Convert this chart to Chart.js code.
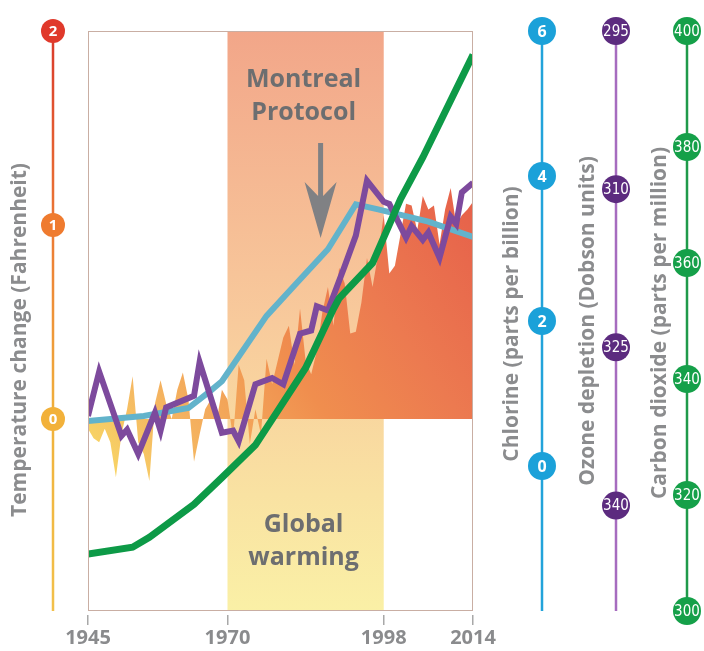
<!DOCTYPE html>
<html>
<head>
<meta charset="utf-8">
<script src="https://cdn.jsdelivr.net/npm/chart.js@4/dist/chart.umd.min.js"></script>
<style>
  html, body { margin: 0; padding: 0; background: #fff; }
  #grafico { display: block; }
</style>
</head>
<body>
<canvas id="grafico" width="704" height="651"></canvas>
<script>
// Datos
const anios = [
  1945, 1946, 1947, 1948, 1949, 1950, 1951, 1952, 1953, 1954,
  1955, 1956, 1957, 1958, 1959, 1960, 1961, 1962, 1963, 1964,
  1965, 1966, 1967, 1968, 1969, 1970, 1971, 1972, 1973, 1974,
  1975, 1976, 1977, 1978, 1979, 1980, 1981, 1982, 1983, 1984,
  1985, 1986, 1987, 1988, 1989, 1990, 1991, 1992, 1993, 1994,
  1995, 1996, 1997, 1998, 1999, 2000, 2001, 2002, 2003, 2004,
  2005, 2006, 2007, 2008, 2009, 2010, 2011, 2012, 2013, 2014
];
// cambio de temperatura (°F)
const temperatura = [
  -0.05, -0.10, -0.12, -0.05, -0.12, -0.30, -0.08, 0.05, 0.22, -0.12,
  -0.18, -0.32, 0.08, 0.20, 0.08, 0.00, 0.15, 0.24, 0.10, -0.22,
  -0.08, 0.05, 0.10, -0.02, 0.15, 0.10, -0.10, 0.28, 0.20, -0.13,
  0.05, -0.08, 0.31, 0.18, 0.30, 0.42, 0.48, 0.28, 0.57, 0.30,
  0.23, 0.35, 0.55, 0.68, 0.48, 0.78, 0.70, 0.44, 0.45, 0.60,
  0.83, 0.68, 0.85, 1.05, 0.75, 0.79, 0.95, 1.11, 1.10, 0.97,
  1.15, 1.08, 1.10, 0.90, 1.08, 1.19, 1.00, 1.05, 1.08, 1.12
];

// cloro (partes por billón)
const cloroAnios = [1945, 1955, 1963, 1967, 1969, 1977, 1982, 1988, 1993, 1997, 2006, 2014];
const cloro = [0.62, 0.69, 0.80, 1.04, 1.17, 2.07, 2.49, 2.99, 3.61, 3.54, 3.37, 3.16];

// ozono (unidades Dobson)
const ozonoAnios = [1945, 1947, 1951, 1952, 1954, 1957, 1958, 1959, 1964, 1965,
  1969, 1971, 1972, 1975, 1978, 1980, 1983, 1985, 1986, 1988,
  1991, 1993, 1995, 1998, 1999, 2002, 2003, 2005, 2006, 2008,
  2010, 2011, 2012, 2014];
const ozono = [331.5, 327.3, 333.4, 332.8, 335.1, 331.2, 332.9, 330.7, 329.6, 326.4,
  333.1, 332.9, 333.9, 328.5, 327.9, 328.5, 323.7, 323.4, 321.1, 321.5,
  317.3, 314.4, 309.2, 311.2, 311.4, 314.6, 313.5, 314.8, 314.1, 316.5,
  312.6, 313.3, 310.3, 309.4];

// dióxido de carbono (ppm)
const co2Anios = [1945, 1953, 1956, 1964, 1969, 1975, 1979, 1984, 1989, 1990, 1996, 2001, 2005, 2014];
const co2 = [309.8, 311.0, 312.7, 318.4, 323.0, 328.6, 334.5, 341.9, 352.1, 353.9, 360.0, 371.0, 378.2, 395.9];

const xTicks = [1945, 1970, 1998, 2014];
const tempTicks = [0, 1, 2];
const cloroTicks = [0, 2, 4, 6];
const ozonoTicks = [295, 310, 325, 340];
const co2Ticks = [300, 320, 340, 360, 380, 400];
const protocolo = [1970, 1998];

const fuente = 'Open Sans';
const fuenteEstrecha = "'Liberation Sans Narrow', 'DejaVu Sans Condensed', 'Roboto', sans-serif";

// Franja del protocolo y marco
const fondo = {
  id: 'fondo',
  beforeDatasetsDraw(chart) {
    const { ctx, chartArea: a, scales: { x } } = chart;
    const x1 = x.getPixelForValue(protocolo[0]);
    const x2 = x.getPixelForValue(protocolo[1]);
    const g = ctx.createLinearGradient(0, a.top, 0, a.bottom);
    g.addColorStop(0, '#f2a689');
    g.addColorStop(0.5, '#f8ca9c');
    g.addColorStop(0.8, '#f9e2a2');
    g.addColorStop(1, '#faf0a6');
    ctx.save();
    ctx.fillStyle = g;
    ctx.fillRect(x1, a.top, x2 - x1, a.bottom - a.top);
    ctx.restore();
  },
  afterDatasetsDraw(chart) {
    const { ctx, chartArea: a } = chart;
    ctx.save();
    ctx.strokeStyle = '#c9aea3';
    ctx.lineWidth = 1;
    ctx.strokeRect(a.left + 0.5, a.top + 0.5, a.width - 1, a.height - 1);
    ctx.restore();
  }
};

function burbuja(ctx, x, y, rx, ry, color, texto, font) {
  ctx.beginPath();
  ctx.ellipse(x, y, rx, ry, 0, 0, Math.PI * 2);
  ctx.fillStyle = color;
  ctx.fill();
  ctx.fillStyle = '#fff';
  ctx.font = font;
  ctx.textAlign = 'center';
  ctx.textBaseline = 'middle';
  ctx.fillText(texto, x, y + 1);
}

function textoVertical(ctx, texto, x, y) {
  ctx.save();
  ctx.translate(x, y);
  ctx.rotate(-Math.PI / 2);
  ctx.textAlign = 'center';
  ctx.textBaseline = 'middle';
  ctx.fillStyle = '#8b8c8e';
  ctx.font = 'bold 21px ' + fuente;
  ctx.fillText(texto, 0, 0);
  ctx.restore();
}

// Ejes verticales con burbujas, títulos y anotaciones
const ejes = {
  id: 'ejes',
  afterDraw(chart) {
    const { ctx, chartArea: a, scales } = chart;
    ctx.save();

    // temperatura
    const xt = 53;
    const gt = ctx.createLinearGradient(0, a.top, 0, a.bottom);
    gt.addColorStop(0, '#d9392c');
    gt.addColorStop(0.35, '#ec7b35');
    gt.addColorStop(0.67, '#f0b23c');
    gt.addColorStop(1, '#f2c04a');
    ctx.strokeStyle = gt;
    ctx.lineWidth = 2.5;
    ctx.beginPath(); ctx.moveTo(xt, a.top); ctx.lineTo(xt, a.bottom); ctx.stroke();
    const coloresTemp = ['#f2b13a', '#ef7b2f', '#e0392b'];
    tempTicks.forEach((v, i) => {
      burbuja(ctx, xt, scales.yTemp.getPixelForValue(v), 12, 12, coloresTemp[i], String(v), 'bold 15px ' + fuente);
    });

    // cloro
    const xc = 542;
    ctx.strokeStyle = '#22a3da';
    ctx.beginPath(); ctx.moveTo(xc, a.top); ctx.lineTo(xc, a.bottom); ctx.stroke();
    cloroTicks.forEach(v => {
      burbuja(ctx, xc, scales.yCl.getPixelForValue(v), 14, 14, '#1ba1d9', String(v), 'bold 16px ' + fuente);
    });

    // ozono
    const xo = 616;
    ctx.strokeStyle = '#a66cbf';
    ctx.beginPath(); ctx.moveTo(xo, a.top); ctx.lineTo(xo, a.bottom); ctx.stroke();
    ozonoTicks.forEach(v => {
      burbuja(ctx, xo, scales.yOz.getPixelForValue(v), 14, 14, '#5c2b7f', String(v), '15px ' + fuenteEstrecha);
    });

    // CO2
    const xg = 687;
    ctx.strokeStyle = '#1f9a4a';
    ctx.beginPath(); ctx.moveTo(xg, a.top); ctx.lineTo(xg, a.bottom); ctx.stroke();
    co2Ticks.forEach(v => {
      burbuja(ctx, xg, scales.yCO2.getPixelForValue(v), 14, 14, '#15a049', String(v), '15px ' + fuenteEstrecha);
    });

    // títulos de ejes
    textoVertical(ctx, 'Temperature change (Fahrenheit)', 20, 340);
    textoVertical(ctx, 'Chlorine (parts per billion)', 512, 324);
    textoVertical(ctx, 'Ozone depletion (Dobson units)', 588, 321);
    textoVertical(ctx, 'Carbon dioxide (parts per million)', 660, 323);

    // anotaciones
    const x = scales.x;
    const cx = (x.getPixelForValue(protocolo[0]) + x.getPixelForValue(protocolo[1])) / 2 - 2;
    ctx.fillStyle = '#6d6e70';
    ctx.font = 'bold 25px ' + fuente;
    ctx.textAlign = 'center';
    ctx.textBaseline = 'middle';
    ctx.fillText('Montreal', cx, 80);
    ctx.fillText('Protocol', cx, 113);
    ctx.fillText('Global', cx, 525);
    ctx.fillText('warming', cx, 558);

    // flecha
    const ax = cx + 17;
    ctx.fillStyle = '#808184';
    ctx.beginPath();
    ctx.moveTo(ax - 2.5, 143);
    ctx.lineTo(ax - 2.5, 196);
    ctx.lineTo(ax - 16, 182);
    ctx.lineTo(ax, 238);
    ctx.lineTo(ax + 16, 182);
    ctx.lineTo(ax + 2.5, 196);
    ctx.lineTo(ax + 2.5, 143);
    ctx.closePath();
    ctx.fill();

    ctx.restore();
  }
};

function rellenoTemp(context) {
  const { chart } = context;
  const a = chart.chartArea;
  if (!a) return '#f09050';
  const g = chart.ctx.createLinearGradient(a.left, a.top + a.height * 0.753, a.right, a.top + a.height * 0.273);
  g.addColorStop(0, '#f8da66');
  g.addColorStop(0.18, '#f5b862');
  g.addColorStop(0.47, '#f08e4e');
  g.addColorStop(0.7, '#ec7a50');
  g.addColorStop(1, '#e6604a');
  return g;
}

const puntos = (xs, ys) => xs.map((v, i) => ({ x: v, y: ys[i] }));

const ctx = document.getElementById('grafico').getContext('2d');
const grafico = new Chart(ctx, {
  type: 'line',
  data: {
    datasets: [
      {
        label: 'Carbon dioxide',
        data: puntos(co2Anios, co2),
        yAxisID: 'yCO2',
        borderColor: '#0d9a47',
        borderWidth: 7,
        order: 1
      },
      {
        label: 'Ozone depletion',
        data: puntos(ozonoAnios, ozono),
        yAxisID: 'yOz',
        borderColor: '#7d4a9d',
        borderWidth: 6,
        borderJoinStyle: 'miter',
        order: 2
      },
      {
        label: 'Chlorine',
        data: puntos(cloroAnios, cloro),
        yAxisID: 'yCl',
        borderColor: '#62b3cb',
        borderWidth: 6,
        order: 3
      },
      {
        label: 'Temperature change',
        data: puntos(anios, temperatura),
        yAxisID: 'yTemp',
        borderWidth: 0,
        borderColor: 'rgba(0,0,0,0)',
        backgroundColor: rellenoTemp,
        fill: 'origin',
        order: 4
      }
    ]
  },
  options: {
    responsive: false,
    animation: false,
    devicePixelRatio: 1,
    layout: { padding: { left: 88, right: 231, top: 31, bottom: 0 } },
    plugins: { legend: { display: false }, tooltip: { enabled: false } },
    elements: { point: { radius: 0 }, line: { tension: 0 } },
    scales: {
      x: {
        type: 'linear',
        min: 1945,
        max: 2014,
        afterBuildTicks: s => { s.ticks = xTicks.map(v => ({ value: v })); },
        grid: { drawOnChartArea: false, tickLength: 14, color: '#a8a8a8', lineWidth: 1.5, tickBorderDash: [0, 4, 10, 0] },
        border: { display: false },
        ticks: {
          autoSkip: false,
          maxRotation: 0,
          padding: 3,
          color: '#8a8b8d',
          font: { family: fuente, weight: 'bold', size: 20, lineHeight: 1 },
          callback: v => String(v)
        }
      },
      yTemp: { type: 'linear', display: false, min: -0.99, max: 2 },
      yCl: { type: 'linear', display: false, min: -2, max: 6 },
      yOz: { type: 'linear', display: false, min: 295, max: 350, reverse: true },
      yCO2: { type: 'linear', display: false, min: 300, max: 400 }
    }
  },
  plugins: [fondo, ejes]
});
</script>
</body>
</html>
